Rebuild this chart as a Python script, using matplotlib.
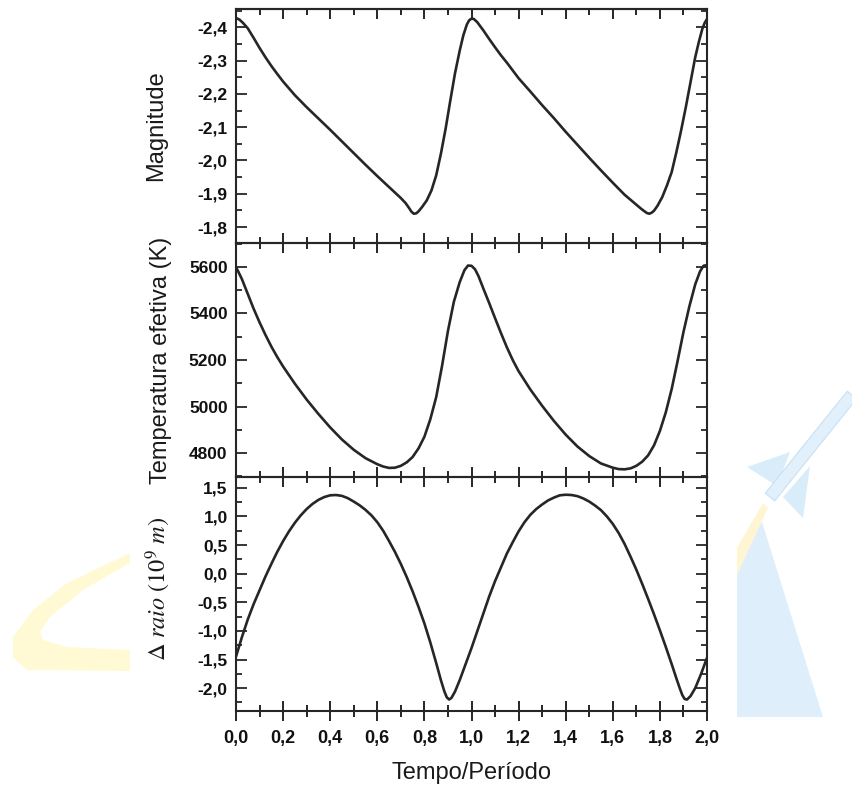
import matplotlib
matplotlib.use("Agg")
import matplotlib.pyplot as plt
from matplotlib.ticker import MultipleLocator, FuncFormatter
from matplotlib.patches import Polygon

plt.rcParams["mathtext.fontset"] = "stix"

# ---------------- data ----------------
fase_mag = [0.000, 0.015, 0.030, 0.050, 0.075, 0.100, 0.125, 0.150, 0.175, 0.200,
            0.250, 0.300, 0.350, 0.400, 0.450, 0.500, 0.550, 0.600, 0.650, 0.700,
            0.720, 0.735, 0.745, 0.755, 0.765, 0.775, 0.790, 0.810, 0.830, 0.850,
            0.870, 0.890, 0.910, 0.930, 0.950, 0.965, 0.980, 0.990, 1.000, 1.010,
            1.025, 1.050, 1.075, 1.100, 1.125, 1.150, 1.200, 1.250, 1.300, 1.350,
            1.400, 1.450, 1.500, 1.550, 1.600, 1.650, 1.700, 1.720, 1.735, 1.745,
            1.755, 1.765, 1.775, 1.790, 1.810, 1.830, 1.850, 1.870, 1.890, 1.910,
            1.930, 1.950, 1.965, 1.980, 1.990, 2.000]
magnitude = [-2.428, -2.423, -2.413, -2.397, -2.368, -2.338, -2.310, -2.284, -2.260, -2.237,
             -2.196, -2.160, -2.126, -2.092, -2.057, -2.022, -1.987, -1.953, -1.920, -1.887,
             -1.872, -1.857, -1.846, -1.840, -1.841, -1.847, -1.860, -1.880, -1.910, -1.955,
             -2.020, -2.095, -2.180, -2.262, -2.330, -2.375, -2.408, -2.421, -2.426, -2.425,
             -2.415, -2.391, -2.365, -2.340, -2.316, -2.294, -2.247, -2.207, -2.166, -2.127,
             -2.086, -2.047, -2.008, -1.970, -1.933, -1.897, -1.867, -1.855, -1.847, -1.842,
             -1.840, -1.843, -1.849, -1.864, -1.890, -1.925, -1.965, -2.025, -2.090, -2.160,
             -2.235, -2.310, -2.355, -2.395, -2.413, -2.425]

fase_temp = [0.000, 0.025, 0.050, 0.075, 0.100, 0.125, 0.150, 0.175, 0.200, 0.250,
             0.300, 0.350, 0.400, 0.450, 0.500, 0.550, 0.600, 0.625, 0.650, 0.675,
             0.700, 0.725, 0.750, 0.775, 0.800, 0.825, 0.850, 0.875, 0.900, 0.925,
             0.950, 0.970, 0.985, 1.000, 1.015, 1.030, 1.050, 1.075, 1.100, 1.125,
             1.150, 1.175, 1.200, 1.250, 1.300, 1.350, 1.400, 1.450, 1.500, 1.550,
             1.600, 1.625, 1.650, 1.675, 1.700, 1.725, 1.750, 1.775, 1.800, 1.825,
             1.850, 1.875, 1.900, 1.925, 1.950, 1.970, 1.985, 2.000]
temperatura = [5600, 5548, 5484, 5420, 5362, 5308, 5258, 5213, 5172, 5098,
               5030, 4968, 4910, 4858, 4814, 4778, 4752, 4742, 4736, 4737,
               4745, 4760, 4783, 4820, 4870, 4945, 5040, 5175, 5325, 5450,
               5535, 5586, 5606, 5605, 5590, 5560, 5508, 5445, 5380, 5316,
               5255, 5200, 5152, 5073, 5003, 4938, 4879, 4828, 4787, 4755,
               4737, 4731, 4730, 4734, 4745, 4763, 4790, 4833, 4895, 4975,
               5075, 5195, 5320, 5430, 5525, 5580, 5605, 5608]

fase_raio = [0.000, 0.025, 0.050, 0.075, 0.100, 0.125, 0.150, 0.175, 0.200, 0.225,
             0.250, 0.275, 0.300, 0.325, 0.350, 0.375, 0.400, 0.425, 0.450, 0.475,
             0.500, 0.525, 0.550, 0.575, 0.600, 0.625, 0.650, 0.675, 0.700, 0.725,
             0.750, 0.775, 0.800, 0.825, 0.850, 0.870, 0.885, 0.895, 0.905, 0.915,
             0.930, 0.950, 0.975, 1.000, 1.025, 1.050, 1.075, 1.100, 1.125, 1.150,
             1.175, 1.200, 1.225, 1.250, 1.275, 1.300, 1.325, 1.350, 1.375, 1.400,
             1.425, 1.450, 1.475, 1.500, 1.525, 1.550, 1.575, 1.600, 1.625, 1.650,
             1.675, 1.700, 1.725, 1.750, 1.775, 1.800, 1.825, 1.850, 1.870, 1.885,
             1.895, 1.905, 1.915, 1.930, 1.950, 1.975, 2.000]
delta_raio = [-1.45, -1.11, -0.80, -0.53, -0.29, -0.05, 0.17, 0.38, 0.57, 0.74,
              0.89, 1.02, 1.13, 1.22, 1.29, 1.34, 1.37, 1.375, 1.36, 1.32,
              1.26, 1.195, 1.115, 1.02, 0.90, 0.75, 0.57, 0.38, 0.17, -0.06,
              -0.31, -0.58, -0.87, -1.20, -1.56, -1.86, -2.06, -2.16, -2.20, -2.17,
              -2.06, -1.86, -1.58, -1.30, -1.00, -0.70, -0.40, -0.13, 0.11, 0.35,
              0.55, 0.74, 0.90, 1.03, 1.13, 1.21, 1.28, 1.33, 1.37, 1.38,
              1.375, 1.355, 1.315, 1.26, 1.19, 1.11, 1.00, 0.87, 0.71, 0.52,
              0.30, 0.07, -0.18, -0.44, -0.71, -0.99, -1.28, -1.58, -1.83, -2.01,
              -2.12, -2.19, -2.20, -2.14, -2.00, -1.75, -1.47]

xticks_major = 0.2
xticks_minor = 0.1

# ---------------- figure ----------------
W, H = 853, 785
fig = plt.figure(figsize=(W / 100, H / 100), dpi=100)
fig.patch.set_facecolor("white")

def px(x, y):
    return (x / W, 1 - y / H)

# faint watermark in the background (outside the white chart box)
wm = []
crescent = [(130, 553), (67, 583), (33, 610), (13, 637), (13, 657), (27, 670), (130, 671),
            (130, 650), (67, 647), (43, 640), (40, 632), (50, 617), (83, 590), (130, 563)]
wm.append((crescent, "#fffad4"))
beam = [(737, 560), (762, 522), (823, 717), (737, 717)]
wm.append((beam, "#deeffb"))
flame = [(737, 548), (763, 503), (768, 508), (737, 575)]
wm.append((flame, "#fff5d2"))
fin_l = [(747, 467), (790, 452), (777, 486)]
fin_r = [(810, 466), (803, 518), (783, 497)]
wm.append((fin_l, "#d9ecfa"))
wm.append((fin_r, "#d9ecfa"))
for pts, col in wm:
    fig.patches.append(Polygon([px(*p) for p in pts], closed=True, transform=fig.transFigure,
                               facecolor=col, edgecolor="none", zorder=0))
body = Polygon([px(765.3, 493.2), px(774.7, 500.8), px(856.7, 398.8), px(847.3, 391.2)],
               closed=True, transform=fig.transFigure, facecolor="#e1f0fb",
               edgecolor="#c6e1f5", linewidth=0.8, zorder=0)
fig.patches.append(body)

left = 236 / W
width = 471 / W
ph = 234 / H
ax1 = fig.add_axes([left, 1 - 243 / H, width, ph])
ax2 = fig.add_axes([left, 1 - 477 / H, width, ph])
ax3 = fig.add_axes([left, 1 - 711 / H, width, ph])

ink = "#262626"
lw_curve = 1.9

def comma(dec):
    def f(v, pos):
        if abs(v) < 1e-9:
            v = 0.0
        return f"{v:.{dec}f}".replace(".", ",")
    return FuncFormatter(f)

for ax in (ax1, ax2, ax3):
    ax.set_facecolor("none")
    ax.set_xlim(0, 2.0)
    ax.xaxis.set_major_locator(MultipleLocator(xticks_major))
    ax.xaxis.set_minor_locator(MultipleLocator(xticks_minor))
    ax.tick_params(axis="x", which="major", direction="inout", length=15, width=1.4,
                   color=ink, bottom=True, top=False, pad=6.0)
    ax.tick_params(axis="x", which="minor", direction="inout", length=8.5, width=1.4,
                   color=ink, bottom=True, top=False)
    ax.tick_params(axis="y", which="major", direction="in", length=8, width=1.3,
                   color=ink, left=True, right=True, pad=6.0)
    ax.tick_params(axis="y", which="minor", direction="in", length=4.5, width=1.3,
                   color=ink, left=True, right=True)
    for s in ax.spines.values():
        s.set_linewidth(1.5)
        s.set_color(ink)

ax1.tick_params(axis="x", labelbottom=False)
ax2.tick_params(axis="x", labelbottom=False)

# top ticks of the top panel pointing inward
sec = ax1.secondary_xaxis("top")
sec.xaxis.set_major_locator(MultipleLocator(xticks_major))
sec.xaxis.set_minor_locator(MultipleLocator(xticks_minor))
sec.tick_params(axis="x", which="major", direction="in", length=7.5, width=1.4,
                color=ink, labeltop=False)
sec.tick_params(axis="x", which="minor", direction="in", length=4.3, width=1.4, color=ink)
sec.spines["top"].set_linewidth(1.5)
sec.spines["top"].set_color(ink)

# panel 1: magnitude
ax1.plot(fase_mag, magnitude, color=ink, lw=lw_curve, solid_joinstyle="round",
         solid_capstyle="round")
ax1.set_ylim(-1.752, -2.455)
ax1.yaxis.set_major_locator(MultipleLocator(0.1))
ax1.yaxis.set_minor_locator(MultipleLocator(0.05))
ax1.yaxis.set_major_formatter(comma(1))

# panel 2: temperature
ax2.plot(fase_temp, temperatura, color=ink, lw=lw_curve, solid_joinstyle="round",
         solid_capstyle="round")
ax2.set_ylim(4697, 5703)
ax2.yaxis.set_major_locator(MultipleLocator(200))
ax2.yaxis.set_minor_locator(MultipleLocator(100))
ax2.yaxis.set_major_formatter(FuncFormatter(lambda v, p: f"{v:.0f}"))

# panel 3: radius
ax3.plot(fase_raio, delta_raio, color=ink, lw=lw_curve, solid_joinstyle="round",
         solid_capstyle="round")
ax3.set_ylim(-2.40, 1.69)
ax3.yaxis.set_major_locator(MultipleLocator(0.5))
ax3.yaxis.set_minor_locator(MultipleLocator(0.25))
ax3.yaxis.set_major_formatter(comma(1))
ax3.xaxis.set_major_formatter(comma(1))

for ax in (ax1, ax2, ax3):
    for lab in ax.get_yticklabels():
        lab.set_fontfamily("Liberation Sans")
        lab.set_fontweight("bold")
        lab.set_fontsize(12.5)
        lab.set_color("#111111")
for lab in ax3.get_xticklabels():
    lab.set_fontfamily("Liberation Sans")
    lab.set_fontweight("bold")
    lab.set_fontsize(13)
    lab.set_color("#111111")

label_font = dict(family="Liberation Sans", fontsize=17, color="#1a1a1a")
ax1.set_ylabel("Magnitude", **label_font)
ax1.yaxis.set_label_coords((167 - 236) / 471, 0.5)
ax2.set_ylabel("Temperatura efetiva (K)", **label_font)
ax2.yaxis.set_label_coords((172 - 236) / 471, 0.5)
ax3.set_ylabel(r"$\Delta\ raio\ (10^{9}\ m)$", fontsize=17.5, color="#1a1a1a",
               math_fontfamily="stix")
ax3.yaxis.set_label_coords((173 - 236) / 471, 0.52)
ax3.set_xlabel("Tempo/Período", va="center", **label_font)
ax3.xaxis.set_label_coords(0.5, (711 - 773) / 234)

fig.savefig("out.png", dpi=100, facecolor="white")
